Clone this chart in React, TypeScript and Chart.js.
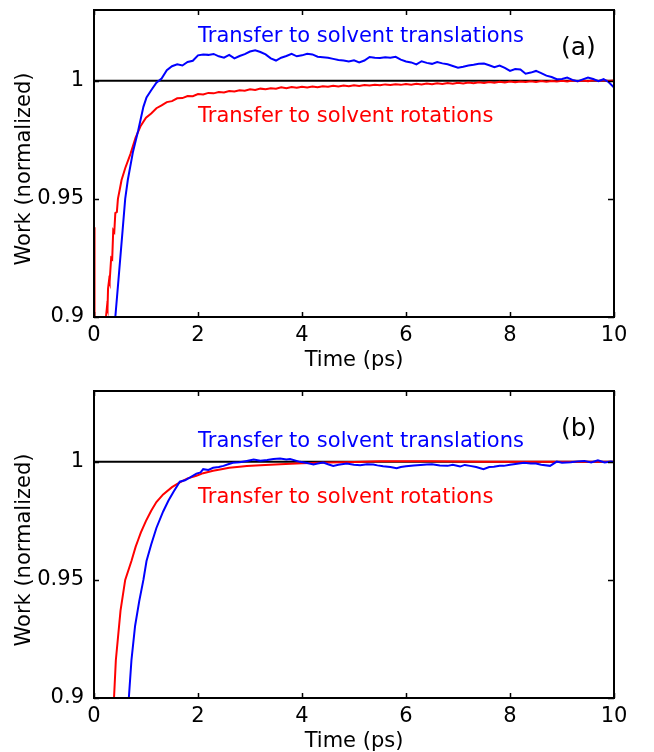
import React, { useEffect, useRef } from 'react';
import { Chart, registerables } from 'chart.js';

Chart.register(...registerables);

// ---------- data ----------
const X_TICKS = [0, 2, 4, 6, 8, 10];
const Y_TICKS = [0.9, 0.95, 1];
const X_MIN = 0;
const X_MAX = 10;
const Y_MIN = 0.9;
const Y_MAX = 1.03;
const REF_LINE: [number, number][] = [[0, 1], [10, 1]];

const LABEL_TRANS = 'Transfer to solvent translations';
const LABEL_ROT = 'Transfer to solvent rotations';
const X_TITLE = 'Time (ps)';
const Y_TITLE = 'Work (normalized)';

// (a) translations (blue)
const A_TRANS: [number, number][] = [
  [0.35, 0.88], [0.41, 0.9], [0.47, 0.9156], [0.55, 0.9367], [0.6, 0.95], [0.65, 0.958],
  [0.75, 0.97], [0.85, 0.979], [0.95, 0.989], [1.01, 0.993], [1.1, 0.996], [1.2, 0.9992],
  [1.3, 1.001], [1.4, 1.0045], [1.5, 1.0062], [1.6, 1.007], [1.7, 1.0065], [1.8, 1.008],
  [1.9, 1.0085], [2.0, 1.0108], [2.1, 1.0112], [2.2, 1.011], [2.3, 1.0114], [2.4, 1.0104],
  [2.5, 1.0098], [2.6, 1.011], [2.7, 1.0095], [2.8, 1.0105], [2.9, 1.0113], [3.0, 1.0124],
  [3.1, 1.0129], [3.2, 1.0122], [3.3, 1.0112], [3.4, 1.0095], [3.5, 1.0086], [3.6, 1.0098],
  [3.7, 1.0105], [3.8, 1.0114], [3.9, 1.0104], [4.0, 1.0108], [4.1, 1.0115], [4.2, 1.0112],
  [4.3, 1.0102], [4.4, 1.01], [4.5, 1.0098], [4.6, 1.0093], [4.7, 1.0088], [4.8, 1.0086],
  [4.9, 1.0082], [5.0, 1.0087], [5.1, 1.0078], [5.2, 1.0086], [5.3, 1.0101], [5.4, 1.0098],
  [5.5, 1.0097], [5.6, 1.01], [5.7, 1.0098], [5.8, 1.0102], [5.9, 1.009], [6.0, 1.0082],
  [6.1, 1.0078], [6.2, 1.007], [6.3, 1.0083], [6.4, 1.0076], [6.5, 1.0072], [6.6, 1.008],
  [6.7, 1.0074], [6.8, 1.007], [6.9, 1.0063], [7.0, 1.0056], [7.1, 1.006], [7.2, 1.0065],
  [7.3, 1.0068], [7.4, 1.0072], [7.5, 1.0073], [7.6, 1.0066], [7.7, 1.0058], [7.8, 1.0065],
  [7.9, 1.0055], [8.0, 1.0042], [8.1, 1.005], [8.2, 1.0048], [8.3, 1.003], [8.4, 1.0035],
  [8.5, 1.0042], [8.6, 1.0033], [8.7, 1.0022], [8.8, 1.0016], [8.9, 1.0007], [9.0, 1.0008],
  [9.1, 1.0014], [9.2, 1.0004], [9.3, 0.9998], [9.4, 1.0006], [9.5, 1.0014], [9.6, 1.0008],
  [9.7, 0.9999], [9.8, 1.0007], [9.9, 0.9994], [10.0, 0.9972],
];

// (a) rotations (red)
const A_ROT: [number, number][] = [
  [0.0, 0.938], [0.01, 0.85], [0.2, 0.88], [0.23, 0.9], [0.25, 0.9044], [0.26, 0.9035],
  [0.27, 0.912], [0.29, 0.9156], [0.3, 0.9148], [0.33, 0.925], [0.35, 0.9245], [0.37, 0.9367],
  [0.39, 0.936], [0.41, 0.944], [0.44, 0.9445], [0.46, 0.95], [0.5, 0.9545], [0.53, 0.958],
  [0.6, 0.963], [0.7, 0.969], [0.8, 0.976], [0.9, 0.981], [1.0, 0.9844], [1.1, 0.9862],
  [1.2, 0.9884], [1.3, 0.9896], [1.4, 0.991], [1.5, 0.9914], [1.6, 0.9926], [1.7, 0.9927],
  [1.8, 0.9936], [1.9, 0.9935], [2.0, 0.9944], [2.1, 0.9942], [2.2, 0.9949], [2.3, 0.9947],
  [2.4, 0.9953], [2.5, 0.9951], [2.6, 0.9957], [2.7, 0.9955], [2.8, 0.996], [2.9, 0.9958],
  [3.0, 0.9964], [3.1, 0.9961], [3.2, 0.9967], [3.3, 0.9964], [3.4, 0.9969], [3.5, 0.9967],
  [3.6, 0.9973], [3.7, 0.9969], [3.8, 0.9974], [3.9, 0.9971], [4.0, 0.9975], [4.1, 0.9972],
  [4.2, 0.9976], [4.3, 0.9973], [4.4, 0.9977], [4.5, 0.9975], [4.6, 0.9979], [4.7, 0.9976],
  [4.8, 0.998], [4.9, 0.9977], [5.0, 0.9981], [5.1, 0.9978], [5.2, 0.9982], [5.3, 0.998],
  [5.4, 0.9983], [5.5, 0.9981], [5.6, 0.9985], [5.7, 0.9982], [5.8, 0.9986], [5.9, 0.9983],
  [6.0, 0.9987], [6.1, 0.9984], [6.2, 0.9988], [6.3, 0.9985], [6.4, 0.9989], [6.5, 0.9986],
  [6.6, 0.999], [6.7, 0.9987], [6.8, 0.9991], [6.9, 0.9988], [7.0, 0.9992], [7.1, 0.9989],
  [7.2, 0.9993], [7.3, 0.999], [7.4, 0.9994], [7.5, 0.9991], [7.6, 0.9995], [7.7, 0.9992],
  [7.8, 0.9996], [7.9, 0.9993], [8.0, 0.9997], [8.1, 0.9994], [8.2, 0.9997], [8.3, 0.9995],
  [8.4, 0.9998], [8.5, 0.9995], [8.6, 0.9999], [8.7, 0.9996], [8.8, 0.9999], [8.9, 0.9997],
  [9.0, 1.0], [9.1, 0.9997], [9.2, 1.0001], [9.3, 0.9998], [9.4, 1.0001], [9.5, 0.9998],
  [9.6, 1.0002], [9.7, 0.9999], [9.8, 1.0002], [9.9, 0.9999], [10.0, 1.0001],
];

// (b) translations (blue)
const B_TRANS: [number, number][] = [
  [0.6, 0.885], [0.67, 0.9], [0.72, 0.916], [0.79, 0.9305], [0.87, 0.941], [0.95, 0.95],
  [1.01, 0.958], [1.1, 0.965], [1.2, 0.972], [1.33, 0.979], [1.43, 0.9835], [1.53, 0.9873],
  [1.65, 0.9916], [1.75, 0.9922], [1.85, 0.9934], [1.97, 0.995], [2.05, 0.9955], [2.1, 0.9969],
  [2.2, 0.9966], [2.29, 0.9975], [2.4, 0.9978], [2.49, 0.9983], [2.58, 0.999], [2.67, 0.9996],
  [2.8, 0.9998], [2.94, 1.0004], [3.07, 1.001], [3.2, 1.0005], [3.33, 1.0008], [3.45, 1.0012],
  [3.58, 1.0014], [3.7, 1.001], [3.77, 1.0012], [3.96, 1.0], [4.1, 0.9995], [4.22, 0.9989],
  [4.3, 0.9993], [4.41, 0.9997], [4.5, 0.999], [4.6, 0.9983], [4.7, 0.9988], [4.86, 0.9993],
  [5.0, 0.9988], [5.12, 0.9986], [5.25, 0.999], [5.37, 0.9989], [5.45, 0.9985], [5.56, 0.9981],
  [5.7, 0.9978], [5.82, 0.9973], [5.9, 0.9978], [6.0, 0.9981], [6.15, 0.9985], [6.28, 0.9987],
  [6.4, 0.9989], [6.5, 0.999], [6.65, 0.9985], [6.8, 0.9983], [6.9, 0.9988], [7.04, 0.998],
  [7.13, 0.9987], [7.23, 0.9983], [7.35, 0.9978], [7.49, 0.9969], [7.6, 0.9978], [7.69, 0.9979],
  [7.8, 0.9983], [7.88, 0.9983], [8.0, 0.9988], [8.07, 0.999], [8.17, 0.9993], [8.27, 0.9996],
  [8.4, 0.9993], [8.5, 0.9993], [8.6, 0.9988], [8.77, 0.9983], [8.9, 1.0001], [9.0, 0.9996],
  [9.17, 0.9998], [9.3, 1.0002], [9.43, 1.0004], [9.56, 0.9997], [9.69, 1.0007], [9.82, 0.9997],
  [9.94, 1.0001], [10.0, 0.9999],
];

// (b) rotations (red)
const B_ROT: [number, number][] = [
  [0.3, 0.885], [0.385, 0.9], [0.42, 0.916], [0.51, 0.937], [0.6, 0.95], [0.72, 0.958],
  [0.8, 0.964], [0.85, 0.967], [0.9, 0.97], [1.0, 0.975], [1.1, 0.9793], [1.2, 0.983],
  [1.33, 0.9862], [1.5, 0.9893], [1.65, 0.9913], [1.8, 0.993], [1.97, 0.9941], [2.1, 0.9952],
  [2.29, 0.9962], [2.45, 0.9969], [2.6, 0.9975], [2.8, 0.9979], [2.94, 0.9982], [3.2, 0.9986],
  [3.58, 0.999], [4.0, 0.9994], [4.5, 0.9997], [5.0, 0.9999], [5.5, 1.0002], [6.0, 1.0003],
  [6.5, 1.0002], [7.0, 1.0001], [7.5, 1.0], [8.0, 1.0], [9.0, 1.0], [10.0, 1.0],
];

// ---------- chart helpers ----------
const FONT = '"DejaVu Sans", sans-serif';
const BLUE = '#0000ff';
const RED = '#ff0000';

const toPts = (arr: [number, number][]) => arr.map(([x, y]) => ({ x, y }));

const framePlugin = {
  id: 'frame',
  afterDatasetsDraw(chart: any, _args: any, opts: any) {
    const { ctx, chartArea, scales } = chart;
    const { left, right, top, bottom } = chartArea;
    const x = scales.x;
    const y = scales.y;
    ctx.save();
    ctx.strokeStyle = '#000';
    ctx.lineWidth = 2;
    ctx.strokeRect(left, top, right - left, bottom - top);
    ctx.lineWidth = 1.5;
    ctx.beginPath();
    for (const v of X_TICKS) {
      const px = Math.round(x.getPixelForValue(v)) + 0.5;
      ctx.moveTo(px, bottom);
      ctx.lineTo(px, bottom - 5);
      ctx.moveTo(px, top);
      ctx.lineTo(px, top + 5);
    }
    for (const v of Y_TICKS) {
      const py = Math.round(y.getPixelForValue(v)) + 0.5;
      ctx.moveTo(left, py);
      ctx.lineTo(left + 5, py);
      ctx.moveTo(right, py);
      ctx.lineTo(right - 6, py);
    }
    ctx.stroke();

    ctx.font = '21px ' + FONT;
    ctx.textBaseline = 'alphabetic';
    ctx.textAlign = 'left';
    ctx.fillStyle = BLUE;
    ctx.fillText(LABEL_TRANS, 198, opts.transY);
    ctx.fillStyle = RED;
    ctx.fillText(LABEL_ROT, 198, opts.rotY);
    ctx.fillStyle = '#000';
    ctx.font = '25px ' + FONT;
    ctx.fillText(opts.tag, 561, opts.tagY);

    ctx.font = '21px ' + FONT;
    ctx.textAlign = 'center';
    ctx.fillText(X_TITLE, (left + right) / 2, bottom + 49);

    ctx.translate(30, top + 159);
    ctx.rotate(-Math.PI / 2);
    ctx.fillText(Y_TITLE, 0, 0);
    ctx.restore();
  },
};

function makeConfig(
  trans: [number, number][],
  rot: [number, number][],
  padTop: number,
  xHeight: number,
  frame: { tag: string; tagY: number; transY: number; rotY: number }
): any {
  return {
    type: 'line',
    data: {
      datasets: [
        { data: toPts(trans), borderColor: BLUE, borderWidth: 2, pointRadius: 0, tension: 0 },
        { data: toPts(rot), borderColor: RED, borderWidth: 2, pointRadius: 0, tension: 0 },
        { data: toPts(REF_LINE), borderColor: '#000', borderWidth: 2, pointRadius: 0 },
      ],
    },
    options: {
      animation: false,
      responsive: false,
      devicePixelRatio: 1,
      layout: { padding: { left: 0, right: 40, top: padTop, bottom: 0 } },
      plugins: {
        legend: { display: false },
        tooltip: { enabled: false },
        frame,
      },
      scales: {
        x: {
          type: 'linear',
          min: X_MIN,
          max: X_MAX,
          grid: { display: false, drawTicks: false },
          border: { display: false },
          afterBuildTicks: (s: any) => {
            s.ticks = X_TICKS.map((v) => ({ value: v }));
          },
          afterFit: (s: any) => {
            s.height = xHeight;
            s.paddingLeft = 0;
            s.paddingRight = 0;
          },
          ticks: {
            padding: 6,
            color: '#000',
            font: { family: FONT, size: 21 },
            maxRotation: 0,
            callback: (v: number) => String(v),
          },
        },
        y: {
          type: 'linear',
          min: Y_MIN,
          max: Y_MAX,
          grid: { display: false, drawTicks: false },
          border: { display: false },
          afterBuildTicks: (s: any) => {
            s.ticks = Y_TICKS.map((v) => ({ value: v }));
          },
          afterFit: (s: any) => {
            s.width = 94;
            s.paddingTop = 0;
            s.paddingBottom = 0;
          },
          ticks: {
            padding: 10,
            color: '#000',
            font: { family: FONT, size: 21 },
            callback: (v: number) => String(v),
          },
        },
      },
    },
    plugins: [framePlugin],
  };
}

function Panel(props: { cfg: () => any }) {
  const ref = useRef<HTMLCanvasElement | null>(null);
  useEffect(() => {
    if (!ref.current) return;
    const chart = new Chart(ref.current, props.cfg());
    return () => chart.destroy();
  }, []);
  return (
    <canvas ref={ref} width={654} height={376} style={{ display: 'block', width: 654, height: 376 }} />
  );
}

export default function App() {
  return (
    <div style={{ position: 'absolute', left: 0, top: 0, width: 654, height: 752, background: '#fff' }}>
      <Panel cfg={() => makeConfig(A_TRANS, A_ROT, 10, 59, { tag: '(a)', tagY: 55, transY: 42, rotY: 122 })} />
      <Panel cfg={() => makeConfig(B_TRANS, B_ROT, 15, 54, { tag: '(b)', tagY: 60, transY: 71, rotY: 127 })} />
    </div>
  );
}
